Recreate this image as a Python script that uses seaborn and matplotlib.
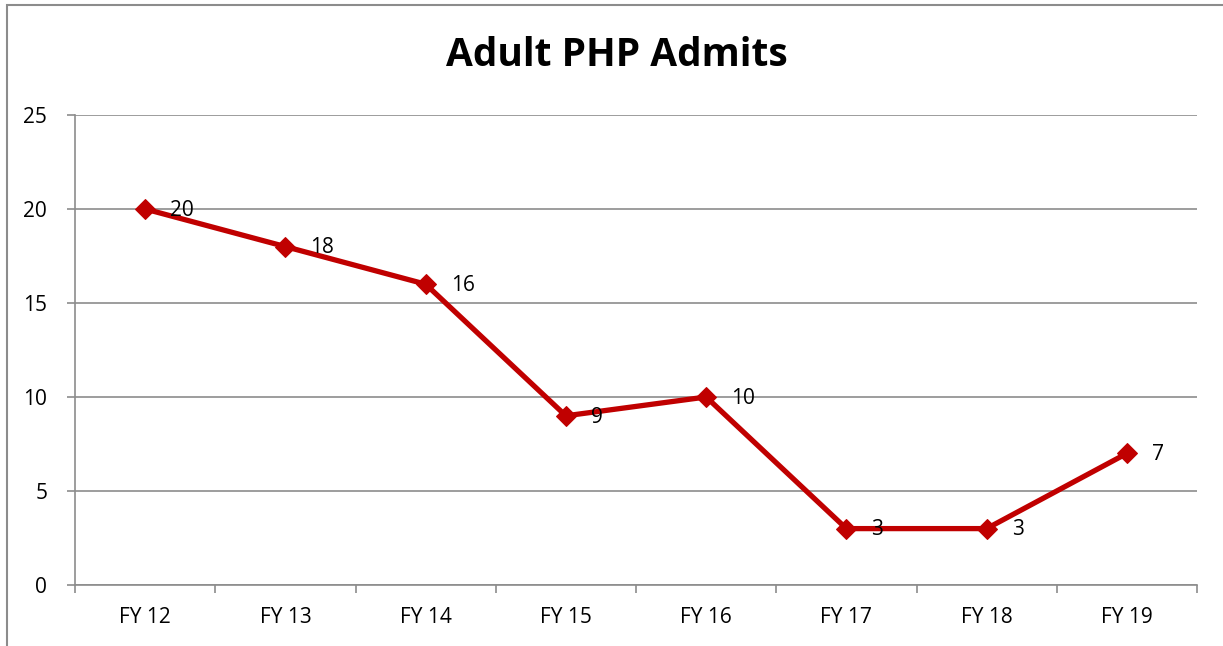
"""Adult PHP admits by fiscal year, line chart."""

import matplotlib.pyplot as plt
import matplotlib.patches as mpatches
import pandas as pd
import seaborn as sns

fiscal_years = ["FY 12", "FY 13", "FY 14", "FY 15", "FY 16", "FY 17", "FY 18", "FY 19"]
admits = [20, 18, 16, 9, 10, 3, 3, 7]
y_ticks = [0, 5, 10, 15, 20, 25]

sns.set_theme(style="white")
plt.rcParams["font.family"] = ["Open Sans", "DejaVu Sans"]
plt.rcParams["text.color"] = "black"
plt.rcParams["xtick.labelcolor"] = "black"
plt.rcParams["ytick.labelcolor"] = "black"

df = pd.DataFrame({"year": fiscal_years, "admits": admits})
df["pos"] = range(len(df))

W, H = 1223, 646
fig = plt.figure(figsize=(W / 100, H / 100), dpi=100)
ax = fig.add_axes([75 / W, 1 - 585 / H, (1197 - 75) / W, (585 - 115) / H])

red = "#C00000"
grid_c = "#8c8c8c"

sns.lineplot(data=df, x="pos", y="admits", ax=ax, color=red, lw=3.8,
             marker="D", markersize=10, markeredgecolor=red, zorder=3)

for p, v in zip(df["pos"], df["admits"]):
    ax.annotate(str(v), (p, v), xytext=(18, -1), textcoords="offset points",
                ha="left", va="center", fontsize=15, color="black")

ax.set_xlim(-0.5, len(fiscal_years) - 0.5)
ax.set_ylim(0, 25)
ax.set_yticks(y_ticks)
ax.set_xticks(df["pos"])
ax.set_xticklabels(fiscal_years)
ax.set_xticks([i - 0.5 for i in range(len(fiscal_years) + 1)], minor=True)
ax.yaxis.grid(True, color=grid_c, lw=1.2)
ax.set_axisbelow(True)
ax.set_xlabel("")
ax.set_ylabel("")

for side in ["top", "right"]:
    ax.spines[side].set_visible(False)
for side in ["left", "bottom"]:
    ax.spines[side].set_color(grid_c)
    ax.spines[side].set_linewidth(1.2)

ax.tick_params(axis="y", which="major", left=True, length=6, width=1.2,
               color=grid_c, labelsize=15, pad=14)
ax.tick_params(axis="x", which="major", bottom=False, labelsize=15, pad=10)
ax.tick_params(axis="x", which="minor", bottom=True, length=6, width=1.2,
               color=grid_c)

fig.text(617 / W, 1 - 55 / H, "Adult PHP Admits", ha="center", va="center",
         fontsize=28, fontweight="bold", color="black")

# outer chart frame, cropped at the right and bottom edges
frame = mpatches.Rectangle((7 / W, -0.1), 1.2, 1 - 5 / H + 0.1,
                           transform=fig.transFigure, fill=False,
                           edgecolor=grid_c, lw=1.5)
fig.patches.append(frame)

fig.savefig("out.png", dpi=100)
plt.close(fig)
